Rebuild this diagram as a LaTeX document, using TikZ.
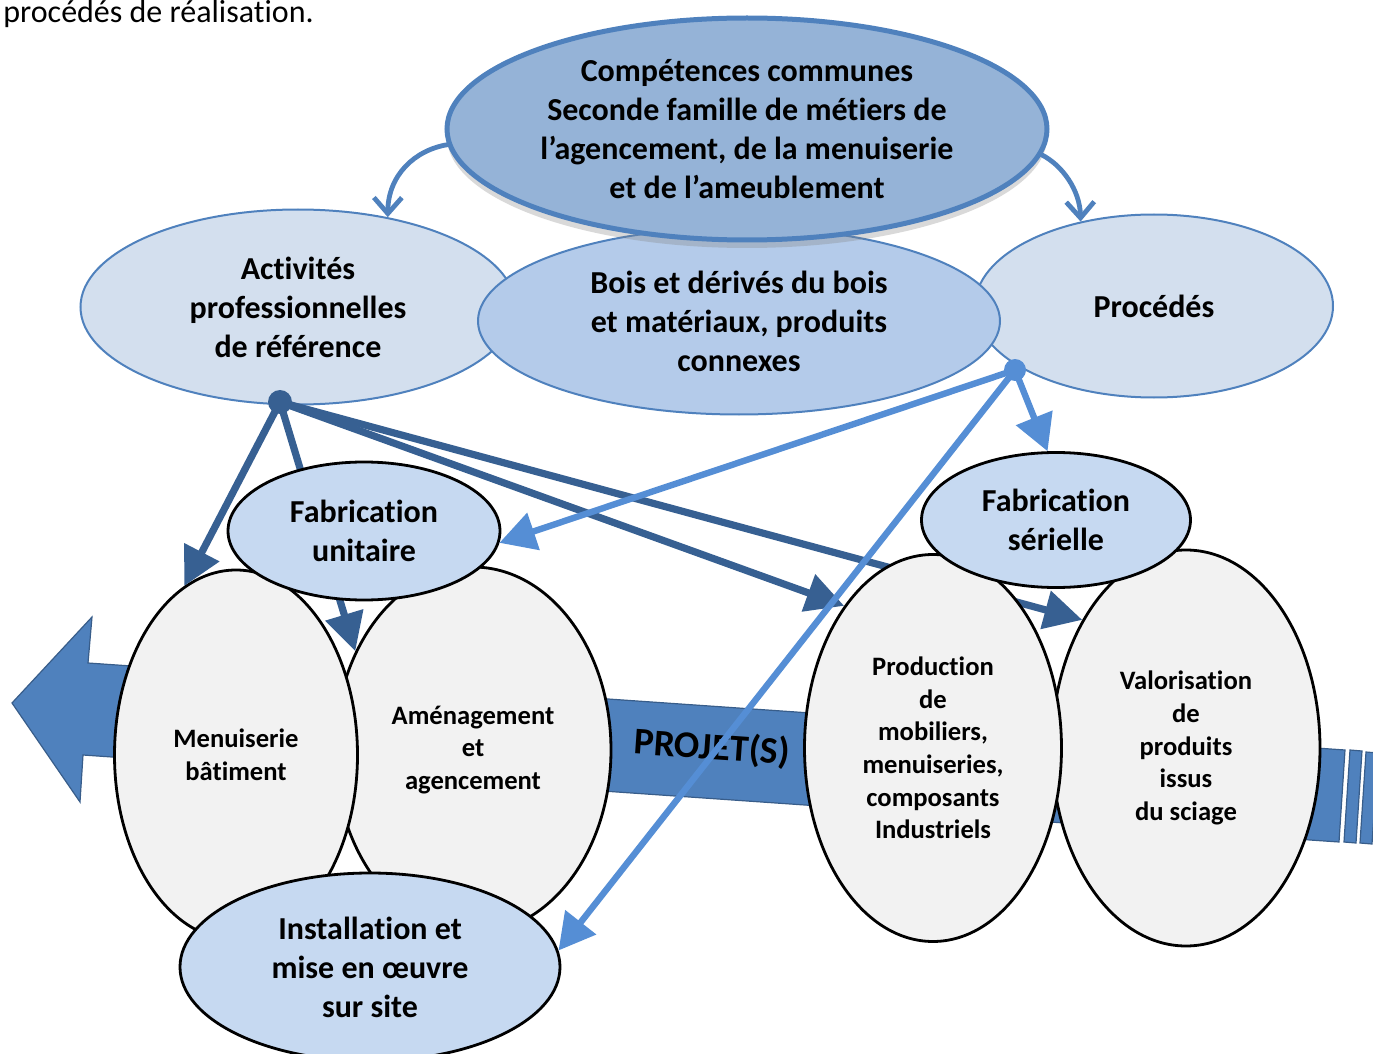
\documentclass[tikz,border=0pt]{standalone}
\usepackage{fontspec}
\setmainfont{Carlito}[Ligatures=NoCommon]
\usetikzlibrary{shapes.geometric,arrows.meta,shadows}

\definecolor{accblue}{HTML}{4F81BD}
\definecolor{bandline}{HTML}{385D8A}
\definecolor{darkblue}{HTML}{376092}
\definecolor{lightblue}{HTML}{558ED5}
\definecolor{topfill}{HTML}{95B3D7}
\definecolor{palefill}{HTML}{D3DFEE}
\definecolor{boisfill}{HTML}{B4CBEA}
\definecolor{fabfill}{HTML}{C6D9F1}
\definecolor{greyfill}{HTML}{F2F2F2}

\newcommand{\bigtxt}{\fontsize{16}{19.5}\selectfont\bfseries}
\newcommand{\smalltxt}{\fontsize{13.3}{16.3}\selectfont\bfseries}

\tikzset{
  oval/.style={ellipse, inner sep=0pt, align=center},
  pale/.style={oval, draw=accblue, line width=1pt, fill=palefill, font=\bigtxt},
  fab/.style={oval, draw=black, line width=1.4pt, fill=fabfill, font=\bigtxt},
  greyoval/.style={oval, draw=black, line width=1.4pt, fill=greyfill, font=\smalltxt},
  darkarrow/.style={darkblue, line width=3.6pt, -{Triangle[length=19pt,width=19pt]}},
  lightarrow/.style={lightblue, line width=3.2pt, -{Triangle[length=18pt,width=19pt]}},
  bentarrow/.style={accblue, line width=2.4pt, line cap=round, -{Straight Barb[length=8pt,width=14pt]}},
  bandpart/.style={fill=accblue, draw=bandline, line width=0.6pt}
}

\begin{document}
\begin{tikzpicture}[x=0.5pt,y=-0.5pt]
\useasboundingbox (0,0) rectangle (1373,1054);

\node[anchor=base west, inner sep=0pt, font=\fontsize{16}{18}\selectfont] (intro) at (3,23) {procédés de réalisation.};

% bande projet
\filldraw[bandpart] (12,703) -- (92,617) -- (88,663) -- (1345,750) -- (1339,842) -- (83,755) -- (80,802) -- cycle;
\filldraw[bandpart] (1350,750) -- (1362,751) -- (1356,843) -- (1344,842) -- cycle;
\filldraw[bandpart] (1366,752) -- (1378,753) -- (1372,844) -- (1360,843) -- cycle;
\node[rotate=-4, font=\fontsize{18.8}{20}\selectfont\bfseries] (projet) at (712,748) {PROJET(S)};

% ligne du haut
\node[pale, minimum width=217.5pt, minimum height=97.5pt] (act) at (298,307) {Activités\\professionnelles\\de référence};
\node[pale, minimum width=179pt, minimum height=91.5pt] (proc) at (1154,306) {Procédés};
\node[pale, fill=boisfill, minimum width=261pt, minimum height=93.5pt] (bois) at (739,321) {Bois et dérivés du bois\\et matériaux, produits\\connexes};
\node[oval, draw=accblue, line width=2.5pt, fill=topfill, font=\bigtxt, minimum width=300pt, minimum height=111pt,
  drop shadow={shadow xshift=0pt, shadow yshift=-4pt, opacity=0.3}] (cc) at (747,129)
  {Compétences communes\\Seconde famille de métiers de\\l’agencement, de la menuiserie\\et de l’ameublement};

\draw[bentarrow] (cc.183) .. controls (415,150) and (388,175) .. (act.45);
\draw[bentarrow] (cc.-5) .. controls (1062,165) and (1080,190) .. (proc.131);

% filieres
\node[greyoval, minimum width=138pt, minimum height=183pt] (amen) at (473,750) {Aménagement\\et\\agencement};
\node[greyoval, minimum width=121.5pt, minimum height=185pt] (menu) at (236,755) {Menuiserie\\bâtiment};
\node[greyoval, minimum width=134pt, minimum height=198pt] (valo) at (1186,748) {Valorisation\\de\\produits\\issus\\du sciage};

\coordinate (dotA) at (280,402);
\coordinate (dotP) at (1015,370);

\draw[darkarrow] (dotA) -- (valo.129);
\node[greyoval, minimum width=128.5pt, minimum height=193.5pt] (prod) at (933,748) {Production\\de\\mobiliers,\\menuiseries,\\composants\\Industriels};
\foreach \tip in {menu.107,amen.140,prod.122}
  \draw[darkarrow] (dotA) -- (\tip);

\node[fab, minimum width=136pt, minimum height=69pt] (fabU) at (364,531) {Fabrication\\unitaire};
\node[fab, minimum width=134.5pt, minimum height=67.5pt] (fabS) at (1056,520) {Fabrication\\sérielle};
\node[fab, minimum width=190pt, minimum height=94pt] (inst) at (370,967) {Installation et\\mise en œuvre\\sur site};

\foreach \tip in {fabU.-5,fabS.97,inst.5}
  \draw[lightarrow] (dotP) -- (\tip);

\fill[darkblue] (dotA) circle (6pt);
\fill[lightblue] (dotP) circle (5.5pt);
\end{tikzpicture}
\end{document}
